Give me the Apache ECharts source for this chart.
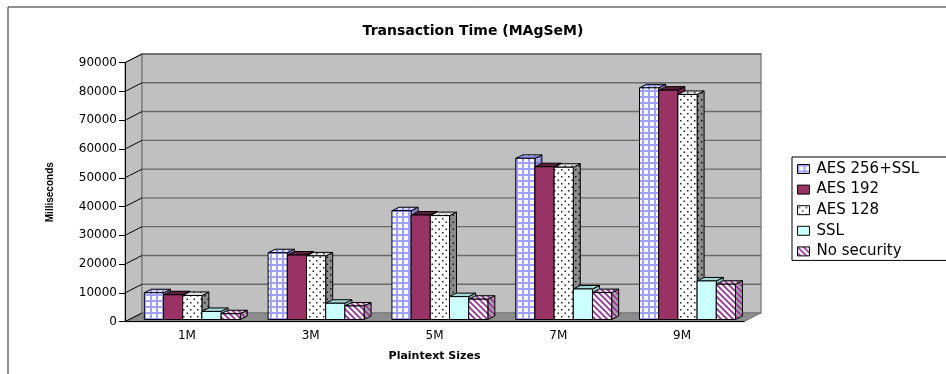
<!DOCTYPE html>
<html>
<head>
<meta charset="utf-8">
<script src="https://cdn.jsdelivr.net/npm/echarts@6/dist/echarts.min.js"></script>
<style>
  html, body { margin: 0; padding: 0; background: #fff; }
  #chart { width: 946px; height: 374px; }
</style>
</head>
<body>
<div id="chart"></div>
<script>
// Transaction time per plaintext size, in milliseconds
const categories = ['1M', '3M', '5M', '7M', '9M'];
const seriesNames = ['AES 256+SSL', 'AES 192', 'AES 128', 'SSL', 'No security'];
const aes256ssl = [9300, 23200, 37800, 56000, 80500];
const aes192 = [8600, 22400, 36300, 53100, 79700];
const aes128 = [8350, 22100, 36100, 52900, 78200];
const ssl = [2800, 5650, 7950, 10600, 13400];
const noSecurity = [2000, 4700, 7050, 9350, 12250];
const yTicks = [0, 10000, 20000, 30000, 40000, 50000, 60000, 70000, 80000, 90000];

const seriesValues = [aes256ssl, aes192, aes128, ssl, noSecurity];

// ---- fill patterns -------------------------------------------------------
function tile(size, bg, draw) {
  const c = document.createElement('canvas');
  c.width = size; c.height = size;
  const g = c.getContext('2d');
  g.fillStyle = bg;
  g.fillRect(0, 0, size, size);
  if (draw) draw(g, size);
  return { image: c, repeat: 'repeat' };
}
function gridTile(bg, line) {
  return tile(6, bg, (g) => {
    g.fillStyle = line;
    g.fillRect(0, 0, 6, 2);
    g.fillRect(0, 0, 2, 6);
  });
}
function dotTile(bg, dot) {
  return tile(7, bg, (g) => {
    g.fillStyle = dot;
    g.fillRect(1, 1, 1.5, 1.5);
    g.fillRect(4.5, 4.5, 1.5, 1.5);
  });
}
function stripeTile(bg, line) {
  return tile(6, bg, (g) => {
    g.strokeStyle = line;
    g.lineWidth = 1.8;
    g.beginPath();
    g.moveTo(-1, -1); g.lineTo(7, 7);
    g.moveTo(-1, 5); g.lineTo(1, 7);
    g.moveTo(5, -1); g.lineTo(7, 1);
    g.stroke();
  });
}

const faces = [
  { front: gridTile('#ffffff', '#a0a0ff'), top: gridTile('#d6d6ff', '#8c8cf0'), side: gridTile('#a8a8d8', '#7a7ad0') },
  { front: '#993366', top: '#5c1f3d', side: '#6b2347' },
  { front: dotTile('#ffffff', '#222222'), top: dotTile('#e4e4e4', '#333333'), side: dotTile('#8c8c8c', '#111111') },
  { front: '#ccffff', top: '#a3d6d6', side: '#8fbebe' },
  { front: stripeTile('#ffffff', '#993399'), top: stripeTile('#dcdcdc', '#993399'), side: stripeTile('#a6a6a6', '#993399') }
];

// ---- 3D-look geometry ----------------------------------------------------
const WALL_DX = 17, WALL_DY = -8.7;   // depth of floor / side wall
const BAR_DX = 7, BAR_DY = -3.5;      // depth of each column
const BAR_SHIFT_X = 5.4, BAR_SHIFT_Y = -2.2;
const BAR_FRACTION = 0.155;

function renderWalls(params, api) {
  const band = api.size([1, 0])[0];
  const first = api.coord([0, 0]);
  const last = api.coord([categories.length - 1, 0]);
  const L = first[0] - band / 2;
  const R = last[0] + band / 2;
  const y0 = first[1];
  const yTop = api.coord([0, yTicks[yTicks.length - 1]])[1];
  const children = [
    { type: 'polygon', shape: { points: [[L, y0], [L + WALL_DX, y0 + WALL_DY], [L + WALL_DX, yTop + WALL_DY], [L, yTop]] },
      style: { fill: '#c0c0c0', stroke: '#7a7a7a', lineWidth: 1 } },
    { type: 'rect', shape: { x: L + WALL_DX, y: yTop + WALL_DY, width: R - L, height: y0 - yTop },
      style: { fill: '#c0c0c0', stroke: '#7a7a7a', lineWidth: 1.3 } },
    { type: 'polygon', shape: { points: [[L, y0], [R, y0], [R + WALL_DX, y0 + WALL_DY], [L + WALL_DX, y0 + WALL_DY]] },
      style: { fill: '#8c8c8c', stroke: '#7a7a7a', lineWidth: 1 } }
  ];
  yTicks.forEach((t) => {
    const y = api.coord([0, t])[1];
    if (t > 0) {
      children.push({ type: 'line', shape: { x1: L + WALL_DX, y1: y + WALL_DY, x2: R + WALL_DX, y2: y + WALL_DY },
        style: { stroke: '#6a6a6a', lineWidth: 1.4 } });
    }
    children.push({ type: 'line', shape: { x1: L, y1: y, x2: L + WALL_DX, y2: y + WALL_DY },
      style: { stroke: '#000', lineWidth: 1 } });
  });
  return { type: 'group', children: children };
}

function barRenderer(s) {
  return function (params, api) {
    const cat = api.value(0);
    const base = api.coord([cat, 0]);
    const top = api.coord([cat, api.value(1)]);
    const bw = api.size([1, 0])[0] * BAR_FRACTION;
    const x0 = base[0] + (s - 2.5) * bw + BAR_SHIFT_X;
    const x1 = x0 + bw;
    const yb = base[1] + BAR_SHIFT_Y;
    const yt = top[1] + BAR_SHIFT_Y;
    const f = faces[s];
    return {
      type: 'group',
      children: [
        { type: 'polygon', shape: { points: [[x1, yt], [x1 + BAR_DX, yt + BAR_DY], [x1 + BAR_DX, yb + BAR_DY], [x1, yb]] },
          style: { fill: f.side, stroke: '#000', lineWidth: 1 } },
        { type: 'polygon', shape: { points: [[x0, yt], [x0 + BAR_DX, yt + BAR_DY], [x1 + BAR_DX, yt + BAR_DY], [x1, yt]] },
          style: { fill: f.top, stroke: '#000', lineWidth: 1 } },
        { type: 'rect', shape: { x: x0, y: yt, width: bw, height: yb - yt },
          style: { fill: f.front, stroke: '#000', lineWidth: 1 } }
      ]
    };
  };
}

const barSeries = seriesNames.map((name, s) => ({
  name: name,
  type: 'custom',
  z: 3,
  renderItem: barRenderer(s),
  itemStyle: { color: faces[s].front, borderColor: '#000', borderWidth: 1 },
  data: seriesValues[s].map((v, i) => [i, v])
}));

const chart = echarts.init(document.getElementById('chart'), null, { renderer: 'canvas' });
chart.setOption({
  animation: false,
  backgroundColor: '#ffffff',
  title: {
    text: 'Transaction Time (MAgSeM)',
    left: 'center',
    top: 19,
    textStyle: { fontFamily: 'DejaVu Sans', fontWeight: 'bold', fontSize: 14, color: '#000' }
  },
  graphic: [
    { type: 'rect', z: -10, shape: { x: 8, y: 7, width: 960, height: 400 },
      style: { fill: 'none', stroke: '#222', lineWidth: 1 } }
  ],
  legend: {
    orient: 'vertical',
    left: 792,
    top: 157,
    data: seriesNames,
    icon: 'rect',
    itemWidth: 12,
    itemHeight: 9,
    itemGap: 4.6,
    padding: [4, 200, 1, 5],
    borderColor: '#000',
    borderWidth: 1,
    itemStyle: { borderColor: '#000', borderWidth: 1 },
    textStyle: { fontFamily: 'DejaVu Sans', fontSize: 15, color: '#000', lineHeight: 16, padding: [0, 0, 0, 2] }
  },
  grid: { left: 125, right: 202, top: 62.7, bottom: 52.3 },
  xAxis: {
    type: 'category',
    data: categories,
    z: 10,
    name: 'Plaintext Sizes',
    nameLocation: 'middle',
    nameGap: 29,
    nameTextStyle: { fontFamily: 'DejaVu Sans', fontWeight: 'bold', fontSize: 11, color: '#000' },
    axisLine: { lineStyle: { color: '#000', width: 1 } },
    axisTick: { length: 5, lineStyle: { color: '#000' } },
    axisLabel: { margin: 8, fontFamily: 'DejaVu Sans', fontSize: 12, color: '#000' },
    splitLine: { show: false }
  },
  yAxis: {
    type: 'value',
    min: 0,
    max: 90000,
    interval: 10000,
    z: 10,
    name: 'Milliseconds',
    nameLocation: 'middle',
    nameGap: 70,
    nameTextStyle: { fontFamily: 'Liberation Sans', fontWeight: 'bold', fontSize: 10, color: '#000' },
    axisLine: { show: true, lineStyle: { color: '#000', width: 1 } },
    axisTick: { show: true, length: 6, lineStyle: { color: '#000' } },
    axisLabel: { margin: 8, fontFamily: 'DejaVu Sans', fontSize: 12, color: '#000', formatter: (v) => String(v) },
    splitLine: { show: false }
  },
  series: [
    { name: 'walls', type: 'custom', z: 1, silent: true, renderItem: renderWalls, data: [[0, 0]] }
  ].concat(barSeries)
});
</script>
</body>
</html>
